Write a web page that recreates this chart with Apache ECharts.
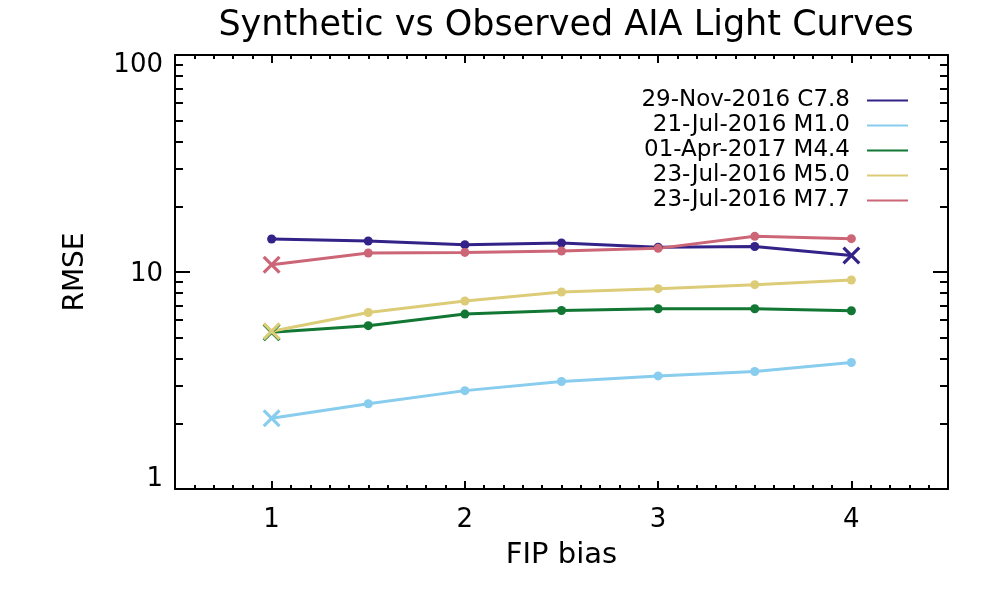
<!DOCTYPE html>
<html>
<head>
<meta charset="utf-8">
<script src="https://cdn.jsdelivr.net/npm/echarts@6/dist/echarts.min.js"></script>
<style>html,body{margin:0;padding:0;background:#fff}#c{width:1000px;height:600px}</style>
</head>
<body>
<div id="c"></div>
<script>
const fipBias = [1, 1.5, 2, 2.5, 3, 3.5, 4];
const seriesNames = ['29-Nov-2016 C7.8', '21-Jul-2016 M1.0', '01-Apr-2017 M4.4', '23-Jul-2016 M5.0', '23-Jul-2016 M7.7'];
const rmseC78 = [14.2, 13.9, 13.35, 13.6, 13.0, 13.1, 11.9];
const rmseM10 = [2.12, 2.47, 2.84, 3.13, 3.32, 3.48, 3.83];
const rmseM44 = [5.28, 5.66, 6.40, 6.65, 6.77, 6.77, 6.63];
const rmseM50 = [5.33, 6.51, 7.35, 8.09, 8.38, 8.74, 9.19];
const rmseM77 = [10.8, 12.23, 12.31, 12.5, 12.85, 14.6, 14.24];
const seriesColors = ['#332288', '#88CCEE', '#117733', '#DDCC77', '#CC6677'];
const xTickLabels = [1, 2, 3, 4];
const yTickLabels = [1, 10, 100];
const yMinorTicks = [2, 3, 4, 5, 6, 7, 8, 9, 20, 30, 40, 50, 60, 70, 80, 90];

const allValues = [rmseC78, rmseM10, rmseM44, rmseM50, rmseM77];
const xMinorTicks = [];
for (let i = 5; i <= 45; i++) { if (i % 10 !== 0) xMinorTicks.push(i / 10); }

const crossPath = 'path://M2.5,0 L10,7.5 L17.5,0 L20,2.5 L12.5,10 L20,17.5 L17.5,20 L10,12.5 L2.5,20 L0,17.5 L7.5,10 L0,2.5 Z';
const FONT = 'DejaVu Sans';

function buildSeries(name, vals, color) {
  let best = 0;
  vals.forEach((v, i) => { if (v < vals[best]) best = i; });
  return {
    name: name,
    type: 'line',
    xAxisIndex: 0,
    yAxisIndex: 0,
    color: color,
    lineStyle: { color: color, width: 3 },
    itemStyle: { color: color },
    symbol: 'circle',
    symbolSize: 9,
    animation: false,
    data: vals.map((v, i) => i === best
      ? { value: [fipBias[i], v], symbol: crossPath, symbolSize: 18 }
      : { value: [fipBias[i], v] })
  };
}

const lineBlack = { show: true, lineStyle: { color: '#000', width: 2 } };
const noLine = { show: false };

const option = {
  backgroundColor: '#fff',
  animation: false,
  title: {
    text: 'Synthetic vs Observed AIA Light Curves',
    left: 561, top: 3, textAlign: 'center',
    textStyle: { fontFamily: FONT, fontSize: 35, fontWeight: 'normal', color: '#000' }
  },
  legend: {
    orient: 'vertical', align: 'right', right: 87, top: 83,
    icon: 'rect', itemWidth: 41, itemHeight: 2, itemGap: 0,
    textStyle: { fontFamily: FONT, fontSize: 23, color: '#000', lineHeight: 25, padding: [0, 12, 0, 0] },
    data: seriesNames
  },
  grid: { left: 175, right: 52, top: 55, bottom: 111 },
  xAxis: [
    {
      type: 'value', min: 0.5, max: 4.5, position: 'bottom',
      name: 'FIP bias', nameLocation: 'middle', nameGap: 52,
      nameTextStyle: { fontFamily: FONT, fontSize: 29, color: '#000' },
      axisLine: lineBlack,
      axisTick: { show: true, inside: true, length: 8, customValues: xTickLabels, lineStyle: { color: '#000', width: 2 } },
      axisLabel: { customValues: xTickLabels, margin: 18, fontFamily: FONT, fontSize: 26, color: '#000' },
      splitLine: { show: false }
    },
    {
      type: 'value', min: 0.5, max: 4.5, position: 'bottom',
      axisLine: noLine,
      axisTick: { show: true, inside: true, length: 4, customValues: xMinorTicks, lineStyle: { color: '#000', width: 2 } },
      axisLabel: { show: false }, splitLine: { show: false }
    },
    {
      type: 'value', min: 0.5, max: 4.5, position: 'top',
      axisLine: lineBlack,
      axisTick: { show: true, inside: true, length: 8, customValues: xTickLabels, lineStyle: { color: '#000', width: 2 } },
      axisLabel: { show: false }, splitLine: { show: false }
    },
    {
      type: 'value', min: 0.5, max: 4.5, position: 'top',
      axisLine: noLine,
      axisTick: { show: true, inside: true, length: 4, customValues: xMinorTicks, lineStyle: { color: '#000', width: 2 } },
      axisLabel: { show: false }, splitLine: { show: false }
    }
  ],
  yAxis: [
    {
      type: 'log', logBase: 10, min: 1, max: 100, position: 'left',
      name: 'RMSE', nameLocation: 'middle', nameGap: 85,
      nameTextStyle: { fontFamily: FONT, fontSize: 28, color: '#000' },
      axisLine: lineBlack,
      axisTick: { show: true, inside: true, length: 15, customValues: yTickLabels, lineStyle: { color: '#000', width: 2 } },
      axisLabel: {
        customValues: yTickLabels, margin: 12, fontFamily: FONT, fontSize: 26, color: '#000',
        formatter: v => v >= 100 ? '{hi|' + v + '}' : (v <= 1 ? '{lo|' + v + '}' : '{mid|' + v + '}'),
        rich: {
          hi: { fontFamily: FONT, fontSize: 26, color: '#000', padding: [20, 0, 0, 0] },
          lo: { fontFamily: FONT, fontSize: 26, color: '#000', padding: [0, 0, 20, 0] },
          mid: { fontFamily: FONT, fontSize: 26, color: '#000', padding: [4, 0, 0, 0] }
        }
      },
      splitLine: { show: false }
    },
    {
      type: 'log', logBase: 10, min: 1, max: 100, position: 'left',
      axisLine: noLine,
      axisTick: { show: true, inside: true, length: 8, customValues: yMinorTicks, lineStyle: { color: '#000', width: 2 } },
      axisLabel: { show: false }, splitLine: { show: false }
    },
    {
      type: 'log', logBase: 10, min: 1, max: 100, position: 'right',
      axisLine: lineBlack,
      axisTick: { show: true, inside: true, length: 15, customValues: yTickLabels, lineStyle: { color: '#000', width: 2 } },
      axisLabel: { show: false }, splitLine: { show: false }
    },
    {
      type: 'log', logBase: 10, min: 1, max: 100, position: 'right',
      axisLine: noLine,
      axisTick: { show: true, inside: true, length: 8, customValues: yMinorTicks, lineStyle: { color: '#000', width: 2 } },
      axisLabel: { show: false }, splitLine: { show: false }
    }
  ],
  series: seriesNames.map((n, i) => buildSeries(n, allValues[i], seriesColors[i]))
};

const chart = echarts.init(document.getElementById('c'), null, { renderer: 'canvas' });
chart.setOption(option);
</script>
</body>
</html>
